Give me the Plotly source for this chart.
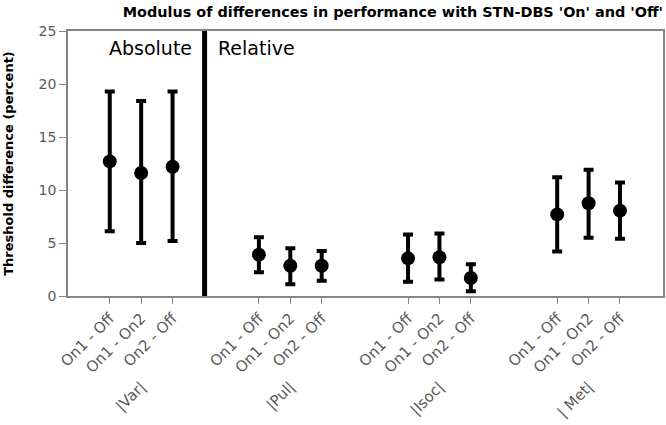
import plotly.graph_objects as go

# comparisons inside each group
pairs = ["On1 - Off", "On1 - On2", "On2 - Off"]
groups = ["|Var|", "|Pul|", "|Isoc|", "| Met|"]

# x position of each point (groups separated by a gap)
xpos = [0, 1, 2, 4.75, 5.75, 6.75, 9.5, 10.5, 11.5, 14.25, 15.25, 16.25]
group_pos = [1, 5.75, 10.5, 15.25]

# mean threshold difference and error bar ends (percent)
means = [12.7, 11.6, 12.2, 3.9, 2.85, 2.85, 3.55, 3.65, 1.7, 7.7, 8.75, 8.05]
upper = [19.3, 18.4, 19.3, 5.55, 4.5, 4.25, 5.8, 5.9, 3.0, 11.2, 11.9, 10.7]
lower = [6.1, 5.0, 5.2, 2.25, 1.1, 1.45, 1.35, 1.55, 0.45, 4.2, 5.5, 5.4]

err_plus = [u - m for u, m in zip(upper, means)]
err_minus = [m - l for m, l in zip(means, lower)]

font = "DejaVu Sans"
grey = "#868686"
xrange = [-1.33, 17.62]

fig = go.Figure()
fig.add_trace(go.Scatter(
    x=xpos, y=means, mode="markers",
    marker=dict(color="black", size=14, symbol="circle"),
    error_y=dict(type="data", symmetric=False, array=err_plus, arrayminus=err_minus,
                 color="black", thickness=4, width=5),
    showlegend=False,
))
# empty trace so the group label axis gets drawn
fig.add_trace(go.Scatter(x=group_pos, y=[None] * 4, xaxis="x2", mode="markers",
                         showlegend=False, hoverinfo="skip"))

# divider between absolute and relative measures
fig.add_shape(type="line", x0=3.02, x1=3.02, y0=0, y1=25, xref="x", yref="y",
              line=dict(color="black", width=5))

fig.add_annotation(x=3.02, y=23.4, xref="x", yref="y", text="Absolute", showarrow=False,
                   xanchor="right", xshift=-11, font=dict(family=font, size=19, color="black"))
fig.add_annotation(x=3.02, y=23.4, xref="x", yref="y", text="Relative", showarrow=False,
                   xanchor="left", xshift=11, font=dict(family=font, size=19, color="black"))

fig.update_layout(
    xaxis=dict(
        range=xrange, tickvals=xpos, ticktext=pairs * 4, tickangle=-45,
        showgrid=False, zeroline=False, showline=True, linecolor=grey, linewidth=1.5,
        mirror=True, ticks="outside", ticklen=6, tickcolor=grey,
        tickfont=dict(family=font, size=15, color="#595959"),
    ),
    xaxis2=dict(
        range=xrange, overlaying="x", side="bottom", anchor="y",
        tickvals=group_pos, ticktext=groups, tickangle=-45, ticks="",
        showgrid=False, zeroline=False, showline=False, ticklabelstandoff=78,
        tickfont=dict(family=font, size=15, color="#595959"),
    ),
    yaxis=dict(
        range=[0, 25], dtick=5, showgrid=False, zeroline=False,
        showline=True, linecolor=grey, linewidth=1.5, mirror=True,
        ticks="outside", ticklen=7, tickcolor=grey,
        tickfont=dict(family=font, size=14, color="#595959"),
        title=dict(text="Threshold difference (percent)", standoff=22,
                   font=dict(family=font, size=13, color="black", weight="bold")),
    ),
    width=666, height=425,
    margin=dict(l=68, r=1, t=31, b=129),
    paper_bgcolor="white", plot_bgcolor="white",
    title=dict(text="<b>Modulus of differences in performance with STN-DBS 'On' and 'Off'</b>",
               xref="paper", x=1, xanchor="right", yref="container", y=0.972, yanchor="middle",
               font=dict(family=font, size=14.4, color="black")),
)

fig.write_html("out.html", config={"displayModeBar": False},
               post_script="document.body.style.margin = '0';")
